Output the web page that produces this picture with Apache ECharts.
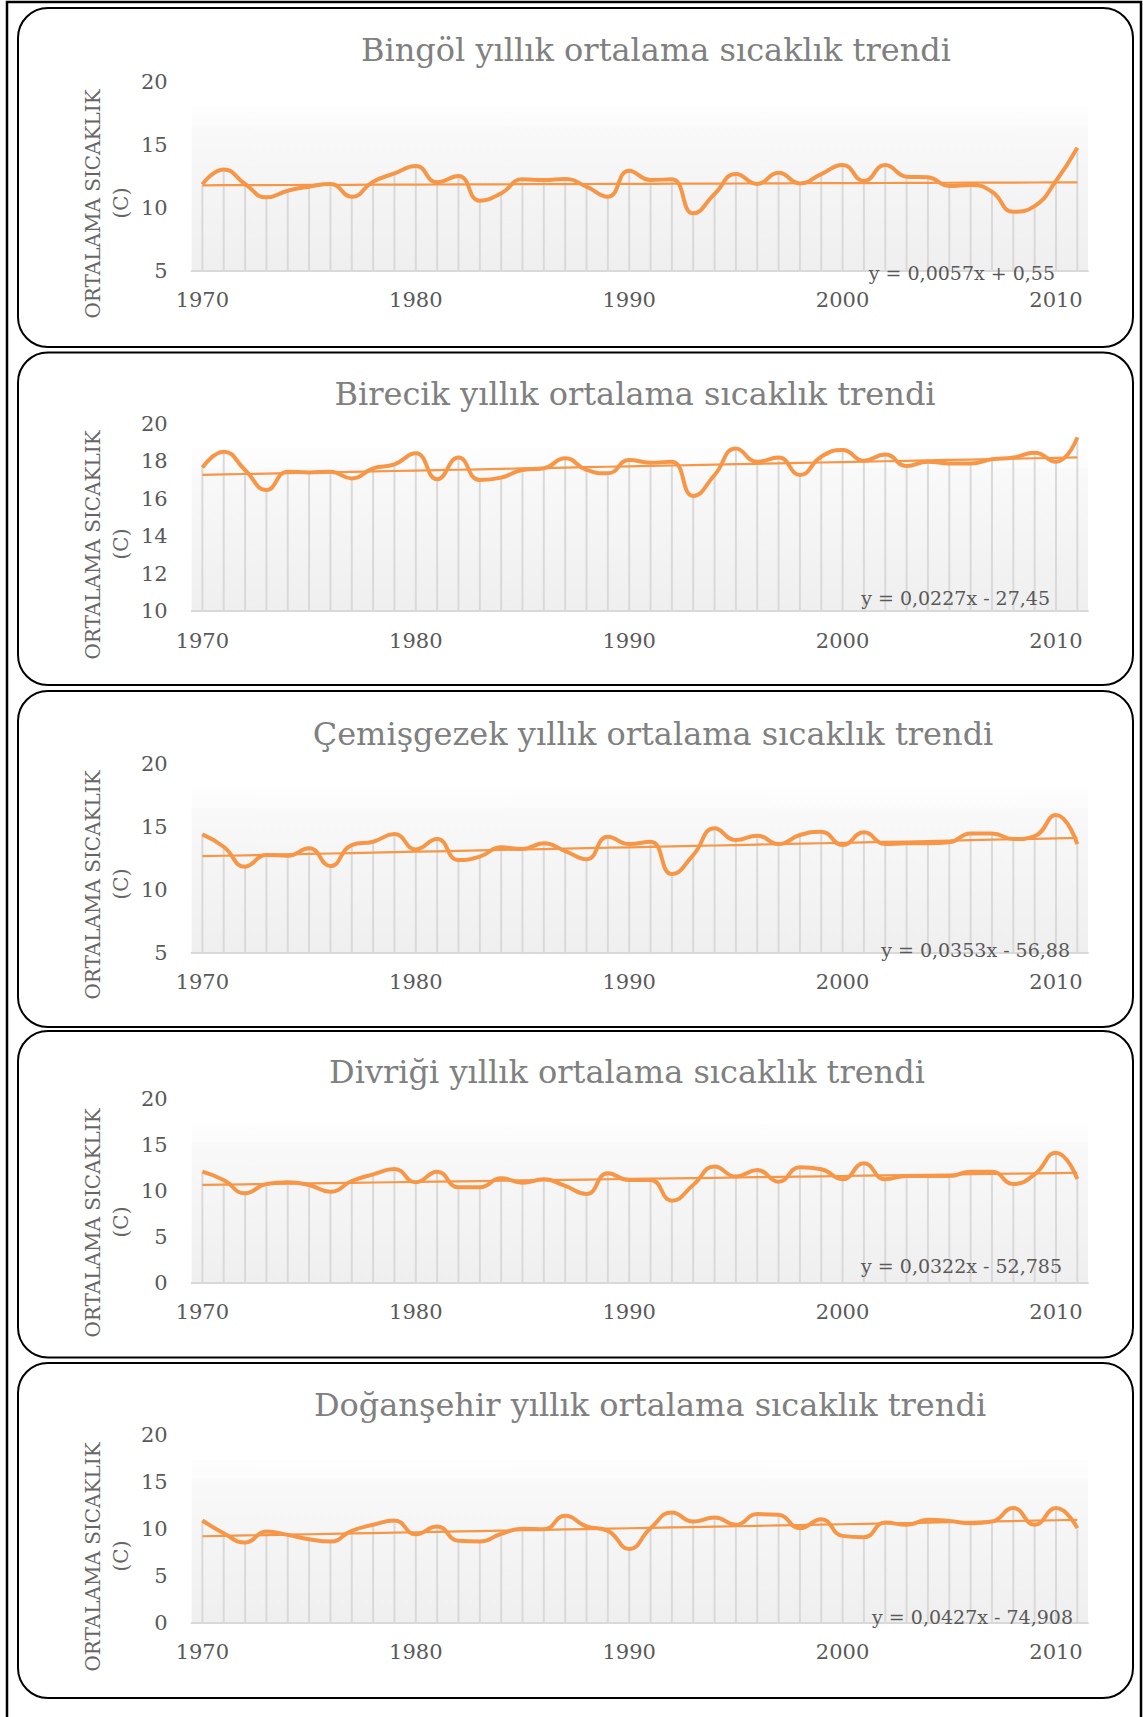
<!DOCTYPE html>
<html>
<head>
<meta charset="utf-8">
<script src="https://cdn.jsdelivr.net/npm/echarts@6/dist/echarts.min.js"></script>
<style>
  html, body { margin: 0; padding: 0; background: #ffffff; }
  #chart { width: 1143px; height: 1717px; }
</style>
</head>
<body>
<div id="chart"></div>
<script>
// Annual mean temperature series (°C), 1970–2011, for five stations
const years = ['1970','1971','1972','1973','1974','1975','1976','1977','1978','1979',
               '1980','1981','1982','1983','1984','1985','1986','1987','1988','1989',
               '1990','1991','1992','1993','1994','1995','1996','1997','1998','1999',
               '2000','2001','2002','2003','2004','2005','2006','2007','2008','2009',
               '2010','2011'];

const bingol = [11.85,13.04,11.88,10.82,11.35,11.67,11.88,10.87,12.06,12.72,
                13.31,12.01,12.51,10.56,11.14,12.25,12.20,12.28,11.67,10.87,
                12.94,12.20,12.25,9.55,11.08,12.67,11.88,12.78,11.93,12.67,
                13.39,12.12,13.39,12.46,12.41,11.72,11.80,11.27,9.68,10.13,
                12.12,14.76];

const birecik = [17.65,18.50,17.53,16.46,17.44,17.40,17.44,17.08,17.62,17.83,
                 18.42,17.03,18.19,16.99,17.12,17.53,17.62,18.15,17.53,17.35,
                 18.06,17.92,17.97,16.14,17.26,18.68,17.97,18.19,17.26,18.24,
                 18.59,18.02,18.36,17.74,17.97,17.88,17.88,18.10,18.19,18.45,
                 17.97,19.27];

const cemisgezek = [14.39,13.41,11.83,12.75,12.70,13.28,11.88,13.54,13.81,14.42,
                    13.20,14.02,12.35,12.62,13.36,13.23,13.68,13.07,12.41,14.21,
                    13.62,13.81,11.24,12.75,14.87,13.94,14.29,13.62,14.34,14.60,
                    13.54,14.55,13.62,13.68,13.68,13.76,14.47,14.47,14.02,14.26,
                    15.93,13.62];

const divrigi = [12.09,11.18,9.73,10.75,10.93,10.64,9.91,11.07,11.80,12.38,
                 10.93,12.09,10.38,10.38,11.37,10.89,11.26,10.53,9.66,11.91,
                 11.18,11.18,8.93,10.64,12.64,11.55,12.27,11.00,12.56,12.35,
                 11.26,13.00,11.26,11.62,11.62,11.62,12.09,12.09,10.75,11.80,
                 14.16,11.29];

const dogansehir = [10.89,9.54,8.54,9.72,9.36,8.90,8.65,9.79,10.43,10.89,
                    9.43,10.25,8.72,8.65,9.47,10.00,9.96,11.39,10.25,9.79,
                    7.86,10.07,11.74,10.78,11.21,10.43,11.57,11.49,10.07,11.03,
                    9.25,9.11,10.68,10.43,10.96,10.85,10.60,10.78,12.21,10.43,
                    12.21,10.07];

const stationNames = ['Bingöl', 'Birecik', 'Çemişgezek', 'Divriği', 'Doğanşehir'];
const stationSeries = [bingol, birecik, cemisgezek, divrigi, dogansehir];

// Linear trend coefficients (x = year) and their printed equations
const trendSlope = [0.0057, 0.0227, 0.0353, 0.0322, 0.0427];
const trendIntercept = [0.55, -27.45, -56.88, -52.785, -74.908];
const equationLabels = ['y = 0,0057x + 0,55', 'y = 0,0227x - 27,45', 'y = 0,0353x - 56,88',
                        'y = 0,0322x - 52,785', 'y = 0,0427x - 74,908'];

// Value-axis ranges
const axisMin = [5, 10, 5, 0, 0];
const axisMax = [20, 20, 20, 20, 20];
const axisStep = [5, 2, 5, 5, 5];

const titleSuffix = ' yıllık ortalama sıcaklık trendi';
const axisTitle = 'ORTALAMA SICAKLIK';
const axisUnit = '(C)';

// ---- layout (pixels) ----
const FONT = '"DejaVu Serif", "Liberation Serif", serif';
const ORANGE = '#f79646';
const plotLeft = 191.7, plotWidth = 896.3;
const layout = [
  { box: [8, 347],      grid: [81.7, 270.7],  title: [656, 50],     axisY: 204,  eq: [1055, 272.7] },
  { box: [352.5, 685],  grid: [423.7, 611],   title: [635, 394],    axisY: 545,  eq: [1050, 598] },
  { box: [691, 1027],   grid: [763.7, 952.7], title: [653, 733.5],  axisY: 885,  eq: [1070, 950] },
  { box: [1031, 1357.5],grid: [1099, 1282.7], title: [627, 1072],   axisY: 1223, eq: [1062, 1266] },
  { box: [1363, 1698],  grid: [1435, 1622.7], title: [650, 1405],   axisY: 1557, eq: [1073, 1617] }
];

const chart = echarts.init(document.getElementById('chart'), null, { renderer: 'svg' });

const grids = [], xAxes = [], yAxes = [], series = [];
const graphics = [
  // outer page frame
  { type: 'rect', shape: { x: 7, y: 2, width: 1134, height: 1740 },
    style: { fill: 'none', stroke: '#000', lineWidth: 2.5 }, silent: true }
];

stationSeries.forEach((values, i) => {
  const L = layout[i];
  grids.push({
    left: plotLeft, width: plotWidth, top: L.grid[0], height: L.grid[1] - L.grid[0],
    show: true, borderWidth: 0,
    backgroundColor: new echarts.graphic.LinearGradient(0, 0, 0, 1, [
      { offset: 0, color: '#ffffff' },
      { offset: 0.13, color: '#ffffff' },
      { offset: 0.135, color: '#fdfdfd' },
      { offset: 0.23, color: '#fcfcfc' },
      { offset: 0.24, color: '#f9f9f9' },
      { offset: 1, color: '#efefef' }
    ])
  });
  xAxes.push({
    type: 'category', gridIndex: i, data: years, boundaryGap: true,
    axisTick: { show: false },
    axisLine: { lineStyle: { color: '#d9d9d9', width: 2 } },
    axisLabel: { interval: 9, color: '#595959', fontFamily: FONT, fontSize: 21, margin: 19 },
    splitLine: { show: false }
  });
  yAxes.push({
    type: 'value', gridIndex: i, min: axisMin[i], max: axisMax[i], interval: axisStep[i],
    axisLine: { show: false }, axisTick: { show: false }, splitLine: { show: false },
    axisLabel: { color: '#595959', fontFamily: FONT, fontSize: 21, margin: 24 }
  });

  // drop lines from each point down to the axis
  const base = axisMin[i];
  series.push({
    type: 'custom', xAxisIndex: i, yAxisIndex: i, silent: true, z: 1,
    data: values.map((v, k) => [k, v]),
    renderItem: (params, api) => {
      const top = api.coord([api.value(0), api.value(1)]);
      const bottom = api.coord([api.value(0), base]);
      return { type: 'line', shape: { x1: top[0], y1: top[1], x2: bottom[0], y2: bottom[1] },
               style: { stroke: '#d9d9d9', lineWidth: 2 } };
    }
  });
  // linear trend
  series.push({
    type: 'line', xAxisIndex: i, yAxisIndex: i, z: 2, symbol: 'none', silent: true,
    data: years.map(y => trendSlope[i] * Number(y) + trendIntercept[i]),
    lineStyle: { color: ORANGE, width: 2.2 }
  });
  // annual means
  series.push({
    type: 'line', xAxisIndex: i, yAxisIndex: i, z: 3, symbol: 'none', smooth: true, silent: true,
    data: values,
    lineStyle: { color: ORANGE, width: 4 }
  });

  // panel frame, title, axis title, equation
  graphics.push(
    { type: 'rect', shape: { x: 18, y: L.box[0], width: 1115, height: L.box[1] - L.box[0], r: 30 },
      style: { fill: 'none', stroke: '#000', lineWidth: 2 }, silent: true },
    { type: 'text', x: L.title[0], y: L.title[1], silent: true,
      style: { text: stationNames[i] + titleSuffix, fill: '#808080', fontFamily: FONT, fontSize: 32,
               align: 'center', verticalAlign: 'middle' } },
    { type: 'text', x: 92.6, y: L.axisY, rotation: Math.PI / 2, silent: true,
      style: { text: axisTitle, fill: '#666666', fontFamily: FONT, fontSize: 20,
               align: 'center', verticalAlign: 'middle' } },
    { type: 'text', x: 121, y: L.axisY - 1, rotation: Math.PI / 2, silent: true,
      style: { text: axisUnit, fill: '#666666', fontFamily: FONT, fontSize: 20,
               align: 'center', verticalAlign: 'middle' } },
    { type: 'text', x: L.eq[0], y: L.eq[1], silent: true, z: 10,
      style: { text: equationLabels[i], fill: '#595959', fontFamily: FONT, fontSize: 19,
               align: 'right', verticalAlign: 'middle' } }
  );
});

chart.setOption({
  animation: false,
  backgroundColor: '#ffffff',
  grid: grids,
  xAxis: xAxes,
  yAxis: yAxes,
  series: series,
  graphic: { elements: graphics }
});
</script>
</body>
</html>
